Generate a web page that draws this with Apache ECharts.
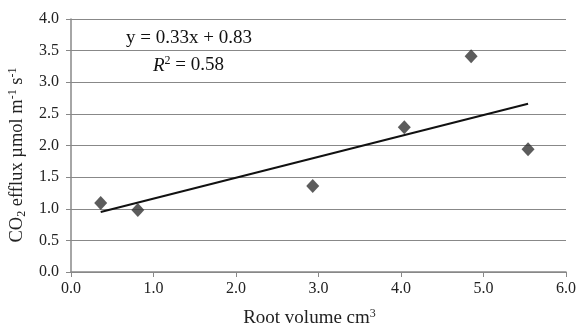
<!DOCTYPE html>
<html>
<head>
<meta charset="utf-8">
<script src="https://cdn.jsdelivr.net/npm/echarts@6/dist/echarts.min.js"></script>
<style>
  html, body {margin: 0; padding: 0; background: #fff;}
  #chart {width: 581px; height: 326px;}
</style>
</head>
<body>
<div id="chart"></div>
<script>
// root volume (cm3) vs CO2 efflux
const rootVolume = [0.36, 0.81, 2.93, 4.04, 4.85, 5.54]
const co2Efflux = [1.09, 0.98, 1.36, 2.29, 3.41, 1.94]
const trendX = [0.36, 5.54]
const trendY = [0.95, 2.66]
const xTicks = [0, 1, 2, 3, 4, 5, 6]
const yTicks = [0, 0.5, 1, 1.5, 2, 2.5, 3, 3.5, 4]

const serif = '"Liberation Serif", "DejaVu Serif", serif'
const chart = echarts.init(document.getElementById('chart'))

const sup = {fontSize: 12, verticalAlign: 'top', padding: [0, 0, 9, 0], fontFamily: serif, color: '#222'}
const sub = {fontSize: 12, verticalAlign: 'bottom', padding: [9, 0, 0, 0], fontFamily: serif, color: '#222'}

chart.setOption({
  animation: false,
  textStyle: {fontFamily: serif},
  grid: {left: 71, right: 15, top: 19, bottom: 54, outerBoundsMode: 'none', containLabel: false},
  xAxis: {
    type: 'value',
    min: xTicks[0],
    max: xTicks[xTicks.length - 1],
    interval: 1,
    name: 'Root volume cm{sup|3}',
    nameLocation: 'middle',
    nameGap: 36,
    nameTextStyle: {
      fontFamily: serif, fontSize: 19, color: '#222',
      padding: [0, 18, 0, 0],
      rich: {sup}
    },
    axisLine: {lineStyle: {color: '#888', width: 1.5}},
    axisTick: {show: true, length: 5, lineStyle: {color: '#888'}},
    axisLabel: {color: '#222', fontSize: 16, margin: 9, formatter: v => v.toFixed(1)},
    splitLine: {show: false}
  },
  yAxis: {
    type: 'value',
    min: yTicks[0],
    max: yTicks[yTicks.length - 1],
    interval: 0.5,
    name: 'CO{sub|2} efflux µmol m{sup|-1} s{sup|-1}',
    nameLocation: 'middle',
    nameGap: 38,
    nameTextStyle: {
      fontFamily: serif, fontSize: 18.5, color: '#222',
      padding: [0, 19, 0, 0],
      rich: {sub, sup}
    },
    axisLine: {show: true, lineStyle: {color: '#888', width: 1.5}},
    axisTick: {show: true, length: 5, lineStyle: {color: '#888'}},
    axisLabel: {color: '#222', fontSize: 16, margin: 12, formatter: v => v.toFixed(1)},
    splitLine: {show: true, lineStyle: {color: '#888', width: 1}}
  },
  graphic: [
    {
      type: 'text', left: 126, top: 29,
      style: {text: 'y = 0.33x + 0.83', font: '19px ' + serif, fill: '#111'}
    },
    {
      type: 'text', left: 153, top: 55,
      style: {
        text: '{i|R}{s|2} = 0.58',
        font: '19px ' + serif, fill: '#111',
        rich: {
          i: {fontStyle: 'italic', fontSize: 19, fontFamily: serif, fill: '#111'},
          s: {fontSize: 12, verticalAlign: 'top', padding: [0, 0, 9, 0], fontFamily: serif, fill: '#111'}
        }
      }
    }
  ],
  series: [
    {
      type: 'line',
      data: trendX.map((x, i) => [x, trendY[i]]),
      symbol: 'none',
      lineStyle: {color: '#111', width: 2},
      z: 3
    },
    {
      type: 'scatter',
      data: rootVolume.map((x, i) => [x, co2Efflux[i]]),
      symbol: 'diamond',
      symbolSize: [13, 14],
      itemStyle: {color: '#333'},
      z: 4
    }
  ]
})
</script>
</body>
</html>
